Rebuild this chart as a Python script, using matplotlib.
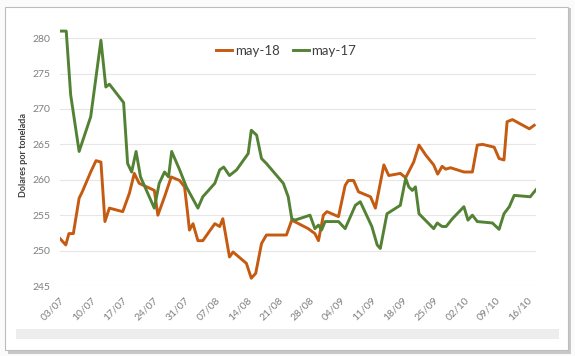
import numpy as np
import matplotlib
matplotlib.use("Agg")
from matplotlib import pyplot as plt
import matplotlib.patches as mpatches

plt.rcParams.update({"font.family": ["Lato", "DejaVu Sans"],
                     "axes.edgecolor": "none"})

# Days counted from 03/07, values in dolares por tonelada
inicio = np.datetime64("2018-07-03")
dias_may17 = [0, 1.4, 2.4, 4.3, 6.9, 9.2, 10.3, 11.1, 14.3, 15.2, 16.1, 17.1, 18.1,
              21.2, 22.3, 23.5, 24.4, 25.1, 26.9, 28.4, 31, 32.1, 34.8, 35.9, 36.8,
              38.1, 39.7, 42.3, 43, 44.2, 45.3, 46.4, 50.2, 51.3, 52.1, 52.8, 56.2,
              57.3, 58.1, 58.8, 59.6, 62.6, 64.1, 66.4, 67.5, 70.1, 71.3, 72, 73.5,
              76.5, 77.7, 78.4, 79.2, 79.9, 80.7, 84, 84.8, 85.9, 86.8, 88.2, 90.8,
              91.7, 92.7, 93.8, 97.2, 98.7, 99.8, 101, 102.1, 105.7, 107]
valores_may17 = [281, 281, 272, 264, 268.9, 279.7, 273.1, 273.5, 270.9, 262.3, 261.1,
                 264, 260.4, 256, 259.5, 261.1, 260.4, 264, 261.4, 259, 256, 257.6,
                 259.5, 261.4, 261.8, 260.6, 261.4, 263.7, 267, 266.3, 263, 262.3,
                 259.5, 257.6, 254.5, 254.3, 255, 253.1, 253.6, 252.9, 254.1, 254.1,
                 253.1, 256.4, 256.9, 253.4, 250.8, 250.3, 255.2, 256.4, 260.2, 259,
                 258.5, 259, 255.2, 253.1, 253.9, 253.4, 253.4, 254.5, 256.2, 254.3,
                 255, 254.1, 253.9, 253, 255.2, 256.2, 257.8, 257.6, 258.6]

dias_may18 = [0, 1.3, 2, 3, 4.3, 5, 6.9, 8.1, 9.2, 10.1, 11.1, 14.1, 15.6, 16.7, 17.8,
              21.2, 22, 23.5, 25, 26.9, 28, 28.7, 29.1, 29.9, 31, 32.1, 34.8, 35.9,
              36.6, 38.1, 38.9, 41.9, 43, 44, 45.3, 46.4, 50.9, 52.1, 55.8, 57.3,
              58.1, 59.2, 60, 62.6, 64.1, 64.8, 66, 67.1, 69.8, 70.9, 72.8, 73.9,
              76.5, 77.7, 79.5, 80.7, 82.2, 84, 84.9, 85.9, 86.7, 87.8, 90.8, 92.7,
              93.8, 95, 97.6, 98.7, 99.8, 100.5, 101.7, 105.5, 106.6]
valores_may18 = [251.7, 250.8, 252.4, 252.4, 257.4, 258.3, 261.1, 262.7, 262.5, 254.1,
                 256, 255.5, 258.1, 260.9, 259.5, 258.5, 255, 257.6, 260.4, 259.9,
                 259, 255.2, 252.9, 253.8, 251.4, 251.4, 253.8, 253.4, 254.5, 249.1,
                 249.8, 248.2, 246.1, 246.8, 251, 252.2, 252.2, 254.3, 253.1, 252.4,
                 251.4, 255, 255.5, 254.8, 259.2, 259.9, 259.9, 258.3, 257.6, 256,
                 262.1, 260.6, 260.9, 260.3, 262.5, 264.9, 263.5, 262.1, 260.8, 261.9,
                 261.5, 261.7, 261.1, 261.1, 264.9, 265, 264.6, 263, 262.8, 268.2,
                 268.5, 267.2, 267.7]

etiquetas_x = ["03/07", "10/07", "17/07", "24/07", "31/07", "07/08", "14/08", "21/08",
               "28/08", "04/09", "11/09", "18/09", "25/09", "02/10", "09/10", "16/10"]
ticks_y = [245, 250, 255, 260, 265, 270, 275, 280]

naranja = "#C55A11"
verde = "#548235"
gris_texto = "#7F7F7F"


def a_fechas(dias):
    # day offsets -> datetimes
    return inicio + (np.array(dias) * 24 * 60).astype("timedelta64[m]")


fig = plt.figure(figsize=(5.75, 3.56), dpi=100)
fig.patch.set_facecolor("#FBFBFB")

# panel with a soft shadow, like a pasted excel chart
fig.patches.append(mpatches.Rectangle((8 / 575, 1 - 354 / 356), 563 / 575, 346 / 356,
                                      transform=fig.transFigure, facecolor="#C8C8C8",
                                      edgecolor="none", zorder=-3))
fig.patches.append(mpatches.Rectangle((5 / 575, 1 - 350 / 356), 563 / 575, 343 / 356,
                                      transform=fig.transFigure, facecolor="white",
                                      edgecolor="#BDBDBD", lw=0.8, zorder=-2))
fig.patches.append(mpatches.Rectangle((16 / 575, 1 - 339 / 356), 543 / 575, 10 / 356,
                                      transform=fig.transFigure, facecolor="#EDEDED",
                                      edgecolor="none", zorder=-1))

ax = fig.add_axes([60 / 575, 1 - 286 / 356, 476 / 575, 262 / 356])
ax.set_facecolor("none")

ax.plot(a_fechas(dias_may18), valores_may18, color=naranja, lw=2.1, label="may-18",
        solid_joinstyle="round", zorder=3)
ax.plot(a_fechas(dias_may17), valores_may17, color=verde, lw=2.1, label="may-17",
        solid_joinstyle="round", zorder=3)

ax.set_xlim(a_fechas([0])[0], a_fechas([107])[0])
ax.set_ylim(245, 282)
ax.set_yticks(ticks_y)
ax.set_yticklabels([str(t) for t in ticks_y], fontsize=7.5, color=gris_texto)
ax.set_xticks(a_fechas(np.arange(len(etiquetas_x)) * 7))
ax.set_xticklabels(etiquetas_x, fontsize=7.5, color=gris_texto, rotation=45,
                   ha="right", rotation_mode="anchor")
ax.tick_params(length=0, pad=7)
ax.grid(axis="y", color="#E6E6E6", lw=0.8)
ax.set_axisbelow(True)
for s in ax.spines.values():
    s.set_visible(False)

ax.set_ylabel("Dolares por tonelada", fontsize=6.5, fontweight="bold", color="#404040",
              labelpad=3)

ax.legend(loc="upper center", bbox_to_anchor=(0.475, 0.965), ncol=2, frameon=False,
          fontsize=9.5, handlelength=1.2, handletextpad=0.2, columnspacing=1.0,
          labelcolor="#404040")

fig.savefig("out.png", dpi=100, facecolor=fig.get_facecolor())
